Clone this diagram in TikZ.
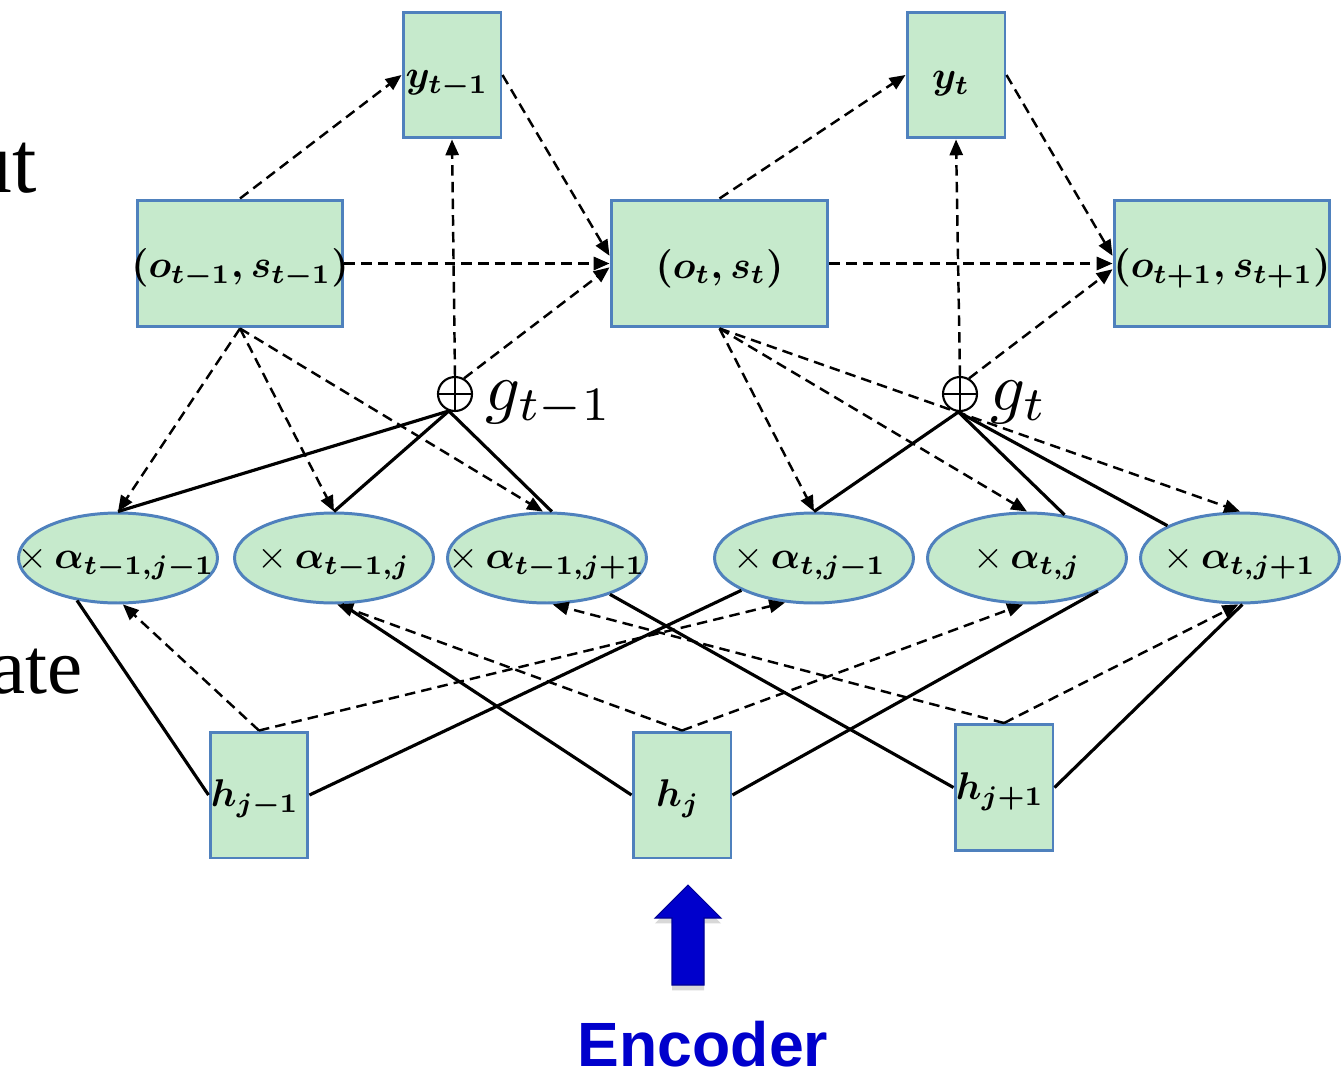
\documentclass[tikz,border=0pt]{standalone}
\usepackage{fontspec}
\usetikzlibrary{arrows.meta,shapes.geometric,shadows}
\newfontfamily\serifword{Liberation Serif}
\newfontfamily\sansword{Liberation Sans}
\definecolor{boxgreen}{RGB}{198,234,204}
\definecolor{boxblue}{RGB}{79,129,189}
\definecolor{encblue}{RGB}{0,0,204}
% math labels are set at 10pt and enlarged
\newcommand\blab[1]{\scalebox{2.2}{\boldmath$#1$}}
\newcommand\wlab[2]{\scalebox{2.2}{$\times$\hspace{0.18em}\boldmath$#1_{#2}$}}
\newcommand\glabel[1]{\scalebox{3.9}{$#1$}}
\tikzset{
  box/.style={draw=boxblue, fill=boxgreen, line width=1.7pt, inner sep=0pt,
    minimum width=1.96cm, minimum height=2.52cm},
  ell/.style={ellipse, draw=boxblue, fill=boxgreen, line width=1.7pt, inner sep=0pt,
    minimum width=3.98cm, minimum height=1.8cm},
  txt/.style={inner sep=0pt},
  sumnode/.style={circle, draw, line width=1.2pt, minimum size=0.68cm, inner sep=0pt},
  dsh/.style={line width=1.4pt, dash pattern=on 6pt off 3.5pt,
    -{Triangle[length=9pt,width=7.5pt]}},
  sol/.style={line width=1.8pt},
}
\begin{document}
\begin{tikzpicture}[x=0.02cm, y=-0.02cm]
\useasboundingbox (0,0) rectangle (1343,1072);
\fill[white] (0,0) rectangle (1343,1072);
\clip (0,0) rectangle (1343,1072);

% side words
\node[anchor=base east, inner sep=0pt, font=\serifword\fontsize{50}{50}\selectfont] (wout) at (37,192) {ut};
\node[anchor=base east, inner sep=0pt, font=\serifword\fontsize{45}{45}\selectfont] (wstate) at (83,693) {ate};

% decoder outputs
\node[box] (yA) at (452,75) {};
\node[box] (yB) at (956,75) {};
\node[txt] (yAt) at ([shift={(-5,9)}]yA.center) {\blab{y_{t-1}}};
\node[txt] (yBt) at ([shift={(-5,9)}]yB.center) {\blab{y_{t}}};

% decoder states
\node[box, minimum width=4.12cm, minimum height=2.54cm] (os1) at (240,263.5) {};
\node[box, minimum width=4.34cm, minimum height=2.54cm] (os2) at (719.5,263.5) {};
\node[box, minimum width=4.32cm, minimum height=2.54cm] (os3) at (1222,263.5) {};
\node[txt] (os1t) at ([shift={(0,5)}]os1.center) {\blab{(o_{t-1}{,}\,s_{t-1})}};
\node[txt] (os2t) at ([shift={(0,5)}]os2.center) {\blab{(o_{t}{,}\,s_{t})}};
\node[txt] (os3t) at ([shift={(0,5)}]os3.center) {\blab{(o_{t+1}{,}\,s_{t+1})}};

% context sums
\node[sumnode] (gA) at (455,394) {};
\draw[line width=1.2pt] (gA.north) -- (gA.south) (gA.west) -- (gA.east);
\node[txt, anchor=base west] (gAl) at (485,410) {\glabel{g_{t-1}}};
\node[sumnode] (gB) at (960,394) {};
\draw[line width=1.2pt] (gB.north) -- (gB.south) (gB.west) -- (gB.east);
\node[txt, anchor=base west] (gBl) at (990,410) {\glabel{g_{t}}};

% attention weights
\node[ell] (E1) at (118,558) {};
\node[ell] (E2) at (334,558) {};
\node[ell] (E3) at (547,558) {};
\node[ell] (E4) at (814,558) {};
\node[ell] (E5) at (1027,558) {};
\node[ell] (E6) at (1240,558) {};
\node[txt] (E1t) at ([shift={(-2,5)}]E1.center) {\wlab{\alpha}{t-1,j-1}};
\node[txt] (E2t) at ([shift={(0,5)}]E2.center) {\wlab{\alpha}{t-1,j}};
\node[txt] (E3t) at ([shift={(0,5)}]E3.center) {\wlab{\alpha}{t-1,j+1}};
\node[txt] (E4t) at ([shift={(-4,5)}]E4.center) {\wlab{\alpha}{t,j-1}};
\node[txt] (E5t) at ([shift={(0,5)}]E5.center) {\wlab{\alpha}{t,j}};
\node[txt] (E6t) at ([shift={(0,5)}]E6.center) {\wlab{\alpha}{t,j+1}};

% encoder states
\node[box] (hA) at (259,795) {};
\node[box] (hB) at (682,795) {};
\node[box] (hC) at (1004,787.5) {};
\node[txt] (hAt) at ([shift={(-4,4)}]hA.center) {\blab{h_{j-1}}};
\node[txt] (hBt) at ([shift={(-4,4)}]hB.center) {\blab{h_{j}}};
\node[txt] (hCt) at ([shift={(-4,4)}]hC.center) {\blab{h_{j+1}}};

% decoder recurrence
\draw[dsh] (os1.north) -- (yA.west);
\draw[dsh] (yA.east) -- (os2.176);
\draw[dsh] (os1.east) -- (os2.west);
\draw[dsh] (gA.north) -- (yA.south);
\draw[dsh] (gA.60) -- (os2.182);
\draw[dsh] (os2.north) -- (yB.west);
\draw[dsh] (yB.east) -- (os3.176);
\draw[dsh] (os2.east) -- (os3.west);
\draw[dsh] (gB.north) -- (yB.south);
\draw[dsh] (gB.60) -- (os3.183);

% state to attention weights, weights to sums
\draw[dsh] (os1.south) -- (E1.north);
\draw[dsh] (os1.south) -- (E2.north);
\draw[dsh] (os1.south) -- (E3.95);
\draw[sol] (gA.250) -- (E1.north);
\draw[sol] (gA.250) -- (E2.north);
\draw[sol] (gA.250) -- (E3.84);
\draw[dsh] (os2.south) -- (E4.north);
\draw[dsh] (os2.south) -- (E5.north);
\draw[dsh] (os2.south) -- (E6.north);
\draw[sol] (gB.265) -- (E4.north);
\draw[sol] (gB.265) -- (E5.49);
\draw[sol] (gB.265) -- (E6.156);

% encoder states to attention weights
\draw[sol] (hA.west) -- (E1.226);
\draw[dsh] (hA.north) -- (E1.-84);
\draw[dsh] (hA.north) -- (E4.-123);
\draw[sol] (hA.east) -- (E4.204);
\draw[sol] (hB.west) -- (E2.-80);
\draw[dsh] (hB.north) -- (E2.-86);
\draw[dsh] (hB.north) -- (E5.-95);
\draw[sol] (hB.east) -- (E5.-25);
\draw[sol] (hC.west) -- (E3.-30);
\draw[dsh] (hC.north) -- (E3.-83);
\draw[dsh] (hC.north) -- (E6.-92);
\draw[sol] (hC.east) -- (E6.-87);

% encoder arrow and caption
\fill[encblue, draw={rgb,255:red,0;green,0;blue,150}, line width=0.6pt,
  drop shadow={shadow xshift=0pt, shadow yshift=-3pt, opacity=0.3}]
  (688,885) -- (721,918) -- (704,918) -- (704,985) -- (672,985) -- (672,918) -- (655,918) -- cycle;
\node[anchor=base, inner sep=0pt, text=encblue, font=\sansword\bfseries\fontsize{35.6}{40}\selectfont] (enc) at (703,1066) {Encoder};
\end{tikzpicture}
\end{document}
